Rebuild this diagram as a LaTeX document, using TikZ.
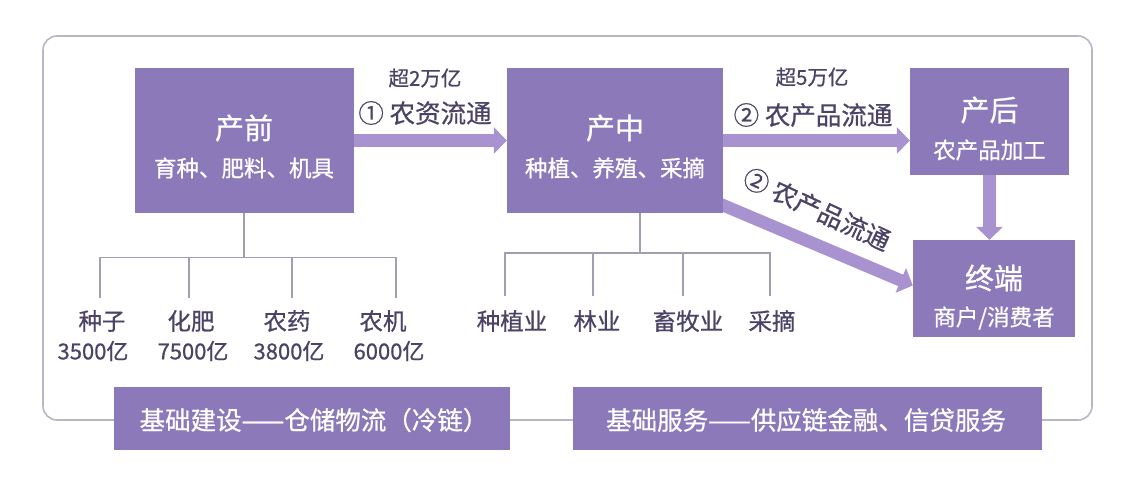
\documentclass[tikz,border=0pt]{standalone}
\usepackage{fontspec}
\newfontfamily\cjk[FakeBold=0.7]{Noto Sans CJK SC}
\usetikzlibrary{arrows.meta,backgrounds,calc}
\definecolor{boxc}{HTML}{8C79BA}
\definecolor{arrc}{HTML}{A892D0}
\definecolor{txtc}{HTML}{4B4265}
\definecolor{linec}{HTML}{A29EB2}
\definecolor{outc}{HTML}{BAB5CA}
\tikzset{
  pbox/.style={fill=boxc, draw=none, inner sep=0pt},
  ttl/.style={text=white, inner sep=0pt, font=\cjk\fontsize{29}{32}\selectfont},
  subt/.style={text=white, inner sep=0pt, font=\cjk\fontsize{22.5}{25}\selectfont},
  lbl/.style={text=txtc, inner sep=0pt, font=\cjk\fontsize{23.5}{26}\selectfont},
  num/.style={text=txtc, inner sep=0pt, font=\cjk\fontsize{22}{25}\selectfont},
  amt/.style={text=txtc, inner sep=0pt, font=\cjk\fontsize{20.5}{23}\selectfont},
  flow/.style={text=txtc, inner sep=0pt, font=\cjk\fontsize{25.5}{28}\selectfont},
  basetxt/.style={text=white, inner sep=0pt, font=\cjk\fontsize{25.5}{28}\selectfont},
  bigarrow/.style={draw=arrc, line width=12.5pt, -{Triangle[width=26pt,length=13pt]}},
  tree/.style={draw=linec, line width=1.3pt},
  outer/.style={draw=outc, line width=1.6pt, rounded corners=14pt},
}
\begin{document}
\begin{tikzpicture}[x=1pt,y=-1pt]
\useasboundingbox (0,0) rectangle (1134,498);

% main boxes
\node[pbox, minimum width=219pt, minimum height=145pt] (qian) at (244,140.5) {};
\node[pbox, minimum width=216pt, minimum height=145pt] (zhong) at (615,140.5) {};
\node[pbox, minimum width=159pt, minimum height=107pt] (hou) at (989.5,121.5) {};
\node[pbox, minimum width=162pt, minimum height=97pt] (zd) at (994,288.5) {};

\node[ttl] (qiant) at (244,128) {产前};
\node[subt] (qians) at (244,168) {育种、肥料、机具};
\node[ttl] (zhongt) at (615,128) {产中};
\node[subt] (zhongs) at (615,168) {种植、养殖、采摘};
\node[ttl] (hout) at (989.5,110) {产后};
\node[subt] (hous) at (989.5,150) {农产品加工};
\node[ttl] (zdt) at (994,278) {终端};
\node[subt] (zds) at (994,318) {商户/消费者};

% bottom boxes
\node[pbox, minimum width=396pt, minimum height=63pt] (b1) at (312,418.5) {};
\node[basetxt] (b1t) at (314,420) {基础建设——仓储物流（冷链）};
\node[pbox, minimum width=469pt, minimum height=63pt] (b2) at (807.5,418.5) {};
\node[basetxt] (b2t) at (806,420) {基础服务——供应链金融、信贷服务};

% flow labels
\node[amt] (a1) at (425,78) {超2万亿};
\node[flow] (f1) at (425,113) {① 农资流通};
\node[amt] (a2) at (812,77) {超5万亿};
\node[flow] (f2) at (813,115) {② 农产品流通};
\node[flow, rotate=-25] (f3) at (817,209) {② 农产品流通};

% tree labels
\node[lbl] (l1) at (102,321) {种子};
\node[num] (n1) at (93,351) {3500亿};
\node[lbl] (l2) at (191,321) {化肥};
\node[num] (n2) at (193,351) {7500亿};
\node[lbl] (l3) at (287,321) {农药};
\node[num] (n3) at (289,351) {3800亿};
\node[lbl] (l4) at (383,321) {农机};
\node[num] (n4) at (389,351) {6000亿};

\node[lbl] (m1) at (512,321) {种植业};
\node[lbl] (m2) at (597,321) {林业};
\node[lbl] (m3) at (688,321) {畜牧业};
\node[lbl] (m4) at (772,321) {采摘};

% tree connectors
\coordinate (qj) at ($(qian.south)+(0,44)$);
\coordinate (qd1) at (100,298);
\coordinate (qd2) at (189,298);
\coordinate (qd3) at (292,298);
\coordinate (qd4) at (396,298);
\draw[tree] (qian.south) -- (qj);
\draw[tree] (qd1) |- (qj) -| (qd4);
\draw[tree] (qd2) -- (qd2 |- qj);
\draw[tree] (qd3) -- (qd3 |- qj);

\coordinate (zj) at (640,253);
\coordinate (zd1) at (505,296);
\coordinate (zd2) at (593,296);
\coordinate (zd3) at (683,296);
\coordinate (zd4) at (770,296);
\draw[tree] (zj |- zhong.south) -- (zj);
\draw[tree] (zd1) |- (zj) -| (zd4);
\draw[tree] (zd2) -- (zd2 |- zj);
\draw[tree] (zd3) -- (zd3 |- zj);

\begin{pgfonlayer}{background}
\draw[outer] (43,36) rectangle (1092,420);
\draw[bigarrow] (qian.east) -- (zhong.west);
\draw[bigarrow] (zhong.east) -- (hou.west |- zhong.east);
\draw[bigarrow] (hou.south) -- (hou.south |- zd.north);
\draw[bigarrow] ($(zhong.south east)+(-12,-13)$) -- ($(zd.west)+(0,-3)$);
\end{pgfonlayer}
\end{tikzpicture}
\end{document}
